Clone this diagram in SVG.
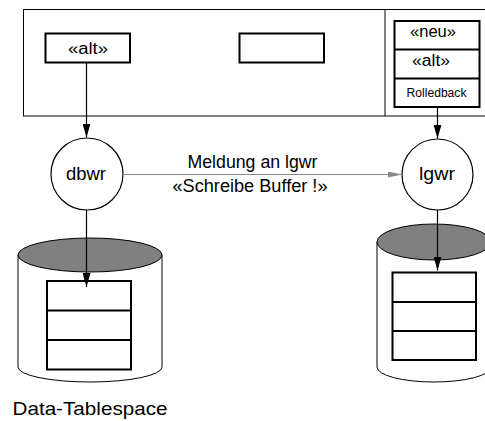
<svg xmlns="http://www.w3.org/2000/svg" width="485" height="421" viewBox="0 0 485 421">
<style>
text{font-family:"Liberation Sans",Arial,sans-serif;fill:#000;text-anchor:middle}
.thin{fill:none;stroke:#000;stroke-width:1}
.box{fill:#fff;stroke:#000;stroke-width:2}
.circ{fill:#fff;stroke:#000;stroke-width:1.2}
.body{fill:#fff;stroke:#000;stroke-width:1}
.top{fill:#808080;stroke:#000;stroke-width:1}
.conn{stroke:#000;stroke-width:1.2;fill:none}
.msg{stroke:#8c8c8c;stroke-width:1.2;fill:none}
</style>
<defs>
<marker id="ah" viewBox="0 0 14 8" refX="14" refY="4" markerWidth="14" markerHeight="8" markerUnits="userSpaceOnUse" orient="auto">
<path d="M0,0 L14,4 L0,8 Z" fill="#000"/>
</marker>
<marker id="ahg" viewBox="0 0 14 6" refX="14" refY="3" markerWidth="14" markerHeight="6" markerUnits="userSpaceOnUse" orient="auto">
<path d="M0,0 L14,3 L0,6 Z" fill="#8c8c8c"/>
</marker>
</defs>
<rect width="485" height="421" fill="#fff"/>
<g id="buffer-cache">
<rect class="thin" x="23.5" y="9.5" width="475" height="106.5"/>
<line class="thin" x1="385" y1="9.5" x2="385" y2="116"/>
</g>
<g id="block-alt">
<rect class="box" x="45.5" y="33.5" width="84.5" height="29"/>
<text x="88" y="53.5" font-size="16" textLength="40" lengthAdjust="spacingAndGlyphs">«alt»</text>
</g>
<g id="block-empty">
<rect class="box" x="239.5" y="33.5" width="84.5" height="29"/>
</g>
<g id="log-buffer">
<rect class="box" x="394.5" y="21" width="85" height="86"/>
<line stroke="#000" stroke-width="2" x1="394.5" y1="49.5" x2="479.5" y2="49.5"/>
<line stroke="#000" stroke-width="2" x1="394.5" y1="78.5" x2="479.5" y2="78.5"/>
<text x="433" y="37" font-size="16" textLength="46" lengthAdjust="spacingAndGlyphs">«neu»</text>
<text x="431" y="66" font-size="16" textLength="38" lengthAdjust="spacingAndGlyphs">«alt»</text>
<text x="436.5" y="96.5" font-size="12" textLength="60" lengthAdjust="spacingAndGlyphs">Rolledback</text>
</g>
<g id="dbwr">
<circle class="circ" cx="87" cy="174" r="36"/>
<text x="86" y="180" font-size="17.5" textLength="40" lengthAdjust="spacingAndGlyphs">dbwr</text>
</g>
<g id="lgwr">
<circle class="circ" cx="437.5" cy="174.5" r="35.5"/>
<text x="437" y="180" font-size="17.5" textLength="36" lengthAdjust="spacingAndGlyphs">lgwr</text>
</g>
<g id="data-tablespace">
<path class="body" d="M18,255 L18,367 A72,15 0 0 0 162,367 L162,255 Z"/>
<ellipse class="top" cx="90" cy="255" rx="72" ry="17"/>
<rect class="box" x="47" y="281" width="84" height="88.5"/>
<line stroke="#000" stroke-width="2" x1="47" y1="310.5" x2="131" y2="310.5"/>
<line stroke="#000" stroke-width="2" x1="47" y1="340" x2="131" y2="340"/>
<text x="90" y="415" font-size="18.5" textLength="155" lengthAdjust="spacingAndGlyphs">Data-Tablespace</text>
</g>
<g id="redo-log">
<path class="body" d="M377,242 L377,367 A57,15 0 0 0 491,367 L491,242 Z"/>
<ellipse class="top" cx="434" cy="242" rx="57" ry="18"/>
<rect class="box" x="392.5" y="272.5" width="83.5" height="87.5"/>
<line stroke="#000" stroke-width="2" x1="392.5" y1="302" x2="476" y2="302"/>
<line stroke="#000" stroke-width="2" x1="392.5" y1="331" x2="476" y2="331"/>
</g>
<g id="connectors">
<line class="conn" x1="86.5" y1="63" x2="86.5" y2="137.5" marker-end="url(#ah)"/>
<line class="conn" x1="437.5" y1="107" x2="437.5" y2="138.5" marker-end="url(#ah)"/>
<line class="conn" x1="86.5" y1="210" x2="86.5" y2="287" marker-end="url(#ah)"/>
<line class="conn" x1="437.5" y1="210" x2="437.5" y2="270.5" marker-end="url(#ah)"/>
<line class="msg" x1="123" y1="174.5" x2="402" y2="174.5" marker-end="url(#ahg)"/>
<text x="252.5" y="167.5" font-size="17.5" textLength="130" lengthAdjust="spacingAndGlyphs">Meldung an lgwr</text>
<text x="250" y="191.5" font-size="17.5" textLength="155" lengthAdjust="spacingAndGlyphs">«Schreibe Buffer !»</text>
</g>
</svg>
